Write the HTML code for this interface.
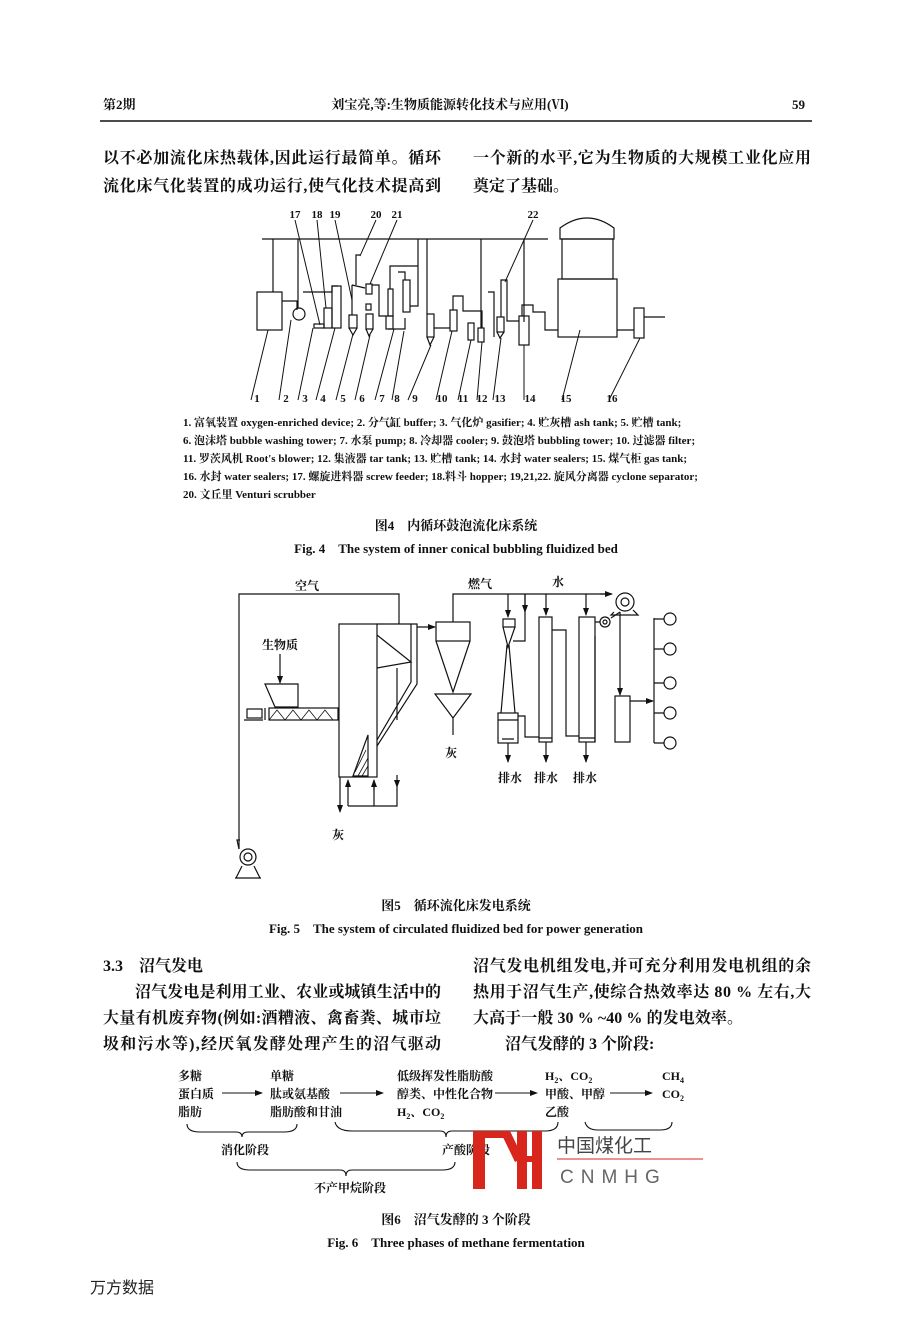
<!DOCTYPE html>
<html><head><meta charset="utf-8"><style>
html,body{margin:0;padding:0;background:#fff;}
svg{display:block}
.t{font-family:"Liberation Serif","Noto Serif CJK SC","Noto Sans CJK SC",serif;fill:#111;}
.b{font-weight:bold}
</style></head><body>
<svg width="904" height="1320" viewBox="0 0 904 1320" xmlns="http://www.w3.org/2000/svg">
<defs><marker id="a" markerWidth="8" markerHeight="8" refX="7" refY="4" orient="auto" markerUnits="userSpaceOnUse"><path d="M0,1 L8,4 L0,7z" fill="#111"/></marker></defs>
<g class="t b">
<text x="103" y="109" font-size="13">第2期</text>
<text x="450" y="109" font-size="13" text-anchor="middle">刘宝亮,等:生物质能源转化技术与应用(Ⅵ)</text>
<text x="805" y="109" font-size="13" text-anchor="end">59</text>
</g>
<line x1="100" y1="121" x2="812" y2="121" stroke="#111" stroke-width="1.6"/>
<g class="t b" font-size="16">
<text x="103" y="163" textLength="338">以不必加流化床热载体,因此运行最简单。循环</text>
<text x="103" y="191" textLength="338">流化床气化装置的成功运行,使气化技术提高到</text>
<text x="473" y="163" textLength="338">一个新的水平,它为生物质的大规模工业化应用</text>
<text x="473" y="191">奠定了基础。</text>
</g>
<!-- Fig 4 -->
<g stroke="#111" stroke-width="1.2" fill="none">
<line x1="262" y1="239" x2="548" y2="239"/>
<path d="M560,239 V228 Q587,208 614,228 V239 Z"/>
<rect x="562" y="239" width="51" height="40"/>
<rect x="558" y="279" width="59" height="58"/>
<rect x="257" y="292" width="25" height="38"/>
<line x1="273" y1="239" x2="273" y2="292"/>
<circle cx="299" cy="314" r="6"/>
<path d="M282,301 H297 V310 M298,239 V308 M303,292 H332 V286 H338"/>
<rect x="332" y="286" width="9" height="42"/>
<rect x="324" y="308" width="8" height="20"/>
<rect x="314" y="324" width="10" height="4"/>
<rect x="349" y="315" width="8" height="13"/><path d="M349,328 L353,335 L357,328"/>
<rect x="366" y="314" width="7" height="15"/><path d="M366,329 L369,336 L373,329"/>
<rect x="366" y="304" width="5" height="6"/>
<rect x="366" y="284" width="6" height="10"/>
<path d="M352,315 V285 M352,285 L365,288 M356,285 V255 H360 M372,285 H379 V316 H386"/>
<rect x="386" y="316" width="7" height="13"/>
<rect x="388" y="289" width="5" height="27"/>
<rect x="403" y="280" width="7" height="32"/>
<path d="M390,289 V266 H418 V306 H410 M398,272 H405 V280 M388,329 H405 V318 M418,266 V239"/>
<rect x="427" y="314" width="7" height="23"/><path d="M427,337 L430,345 L434,337"/>
<rect x="450" y="310" width="7" height="21"/>
<rect x="468" y="323" width="6" height="17"/>
<rect x="478" y="328" width="6" height="14"/>
<path d="M427,314 V239 M434,328 H450 M453,310 V296 H463 V311 H482 V328 M481,239 V328 M488,292 H494 V337"/>
<rect x="497" y="317" width="7" height="15"/><path d="M497,332 L500,338 L504,332"/>
<path d="M501,317 V280 H507 V321 H519 M524,239 V322"/>
<rect x="519" y="316" width="10" height="29"/>
<path d="M522,316 V305 H533 V312 H545 V330 H558 M617,330 H634"/>
<rect x="634" y="308" width="10" height="30"/>
<line x1="644" y1="317" x2="665" y2="317"/>
</g>
<g stroke="#111" stroke-width="1" fill="none">
<path d="M251,400 L268,330 M279,400 L291,320 M298,400 L313,328 M316,400 L335,328 M336,400 L353,334 M355,400 L370,335 M375,400 L394,329 M392,400 L404,331 M408,400 L431,345 M436,400 L452,331 M458,400 L471,340 M477,400 L482,342 M493,400 L501,338 M524,400 L524,345 M562,400 L580,330 M609,400 L640,338"/>
<path d="M295,220 L320,325 M317,220 L326,308 M335,220 L352,300 M376,220 L360,256 M397,220 L370,284 M533,220 L505,282"/>
</g>
<g class="t" font-size="11" font-weight="bold">
<text x="257" y="402" text-anchor="middle">1</text><text x="286" y="402" text-anchor="middle">2</text><text x="305" y="402" text-anchor="middle">3</text><text x="323" y="402" text-anchor="middle">4</text><text x="343" y="402" text-anchor="middle">5</text><text x="362" y="402" text-anchor="middle">6</text><text x="382" y="402" text-anchor="middle">7</text><text x="397" y="402" text-anchor="middle">8</text><text x="415" y="402" text-anchor="middle">9</text><text x="442" y="402" text-anchor="middle">10</text><text x="463" y="402" text-anchor="middle">11</text><text x="482" y="402" text-anchor="middle">12</text><text x="500" y="402" text-anchor="middle">13</text><text x="530" y="402" text-anchor="middle">14</text><text x="566" y="402" text-anchor="middle">15</text><text x="612" y="402" text-anchor="middle">16</text>
<text x="295" y="218" text-anchor="middle">17</text><text x="317" y="218" text-anchor="middle">18</text><text x="335" y="218" text-anchor="middle">19</text><text x="376" y="218" text-anchor="middle">20</text><text x="397" y="218" text-anchor="middle">21</text><text x="533" y="218" text-anchor="middle">22</text>
</g>
<g class="t" font-size="11" font-weight="bold">
<text x="183" y="426">1. 富氧装置 oxygen-enriched device; 2. 分气缸 buffer; 3. 气化炉 gasifier; 4. 贮灰槽 ash tank; 5. 贮槽 tank;</text>
<text x="183" y="444">6. 泡沫塔 bubble washing tower; 7. 水泵 pump; 8. 冷却器 cooler; 9. 鼓泡塔 bubbling tower; 10. 过滤器 filter;</text>
<text x="183" y="462">11. 罗茨风机 Root's blower; 12. 集液器 tar tank; 13. 贮槽 tank; 14. 水封 water sealers; 15. 煤气柜 gas tank;</text>
<text x="183" y="480">16. 水封 water sealers; 17. 螺旋进料器 screw feeder; 18.料斗 hopper; 19,21,22. 旋风分离器 cyclone separator;</text>
<text x="183" y="498">20. 文丘里 Venturi scrubber</text>
<text x="456" y="530" font-size="13" text-anchor="middle">图4　内循环鼓泡流化床系统</text>
<text x="456" y="553" font-size="13" text-anchor="middle">Fig. 4　The system of inner conical bubbling fluidized bed</text>
</g>
<!-- Fig 5 -->
<g stroke="#111" stroke-width="1.2" fill="none">
<path d="M239,849 V594 H399 V624"/>
<circle cx="248" cy="857" r="8"/><circle cx="248" cy="857" r="4"/>
<path d="M236,878 L242,866 M260,878 L254,866 M235,878 H261 M239,849 L237,840 H240"/>
<rect x="339" y="624" width="38" height="153"/>
<path d="M377,624 H417 V684 L377,746 M411,624 V682 L377,740 M377,635 L411,662 L377,668 M397,668 V720"/>
<path d="M353,776 L368,735 V776 Z"/>
<path d="M355,772 L366,750 M358,776 L368,758 M362,776 L368,766" stroke-width="0.8"/>
<path d="M417,627 H435" marker-end="url(#a)"/>
<path d="M348,806 V783 M374,806 V783 M348,806 H397 V787"/>
<path d="M348,785 V780" marker-end="url(#a)"/><path d="M374,790 V780" marker-end="url(#a)"/><path d="M397,775 V787" marker-end="url(#a)"/>
<path d="M340,777 V812" marker-end="url(#a)"/>
<path d="M265,684 H298 V707 H275 Z"/>
<path d="M280,654 V683" marker-end="url(#a)"/>
<rect x="269" y="708" width="69" height="12"/>
<path d="M269,720 L277,710 L285,720 L293,710 L301,720 L309,710 L317,720 L325,710 L333,720" stroke-width="0.8"/>
<rect x="247" y="709" width="15" height="9"/><path d="M244,720 H263 M265,708 V720"/>
<rect x="436" y="622" width="34" height="19"/>
<path d="M436,641 L453,692 L470,641 M435,694 H471 L453,718 Z M453,718 V735"/>
<path d="M453,622 V594 H610"/><path d="M600,594 H612" marker-end="url(#a)"/>
<circle cx="625" cy="602" r="9"/><circle cx="625" cy="602" r="4"/>
<path d="M614,612 L611,615 H638 L633,610"/>
<rect x="503" y="619" width="12" height="8"/>
<path d="M503,627 L508,647 L515,627 M525,594 V641 H513"/>
<path d="M508,594 V617" marker-end="url(#a)"/><path d="M525,594 V612" marker-end="url(#a)"/><path d="M546,594 V615" marker-end="url(#a)"/><path d="M586,594 V615" marker-end="url(#a)"/>
<path d="M507,645 L501,713 M509,645 L515,713"/>
<rect x="498" y="713" width="20" height="30"/>
<path d="M498,720 H518 M502,739 H514"/>
<rect x="539" y="617" width="13" height="125"/>
<rect x="579" y="617" width="16" height="125"/>
<path d="M518,716 H525 V737 H539 M552,630 H566 V736 H579 M595,636 V742 M539,738 H552 M579,738 H595"/>
<path d="M508,743 V762" marker-end="url(#a)"/><path d="M546,742 V762" marker-end="url(#a)"/><path d="M586,742 V762" marker-end="url(#a)"/>
<circle cx="605" cy="622" r="5"/><circle cx="605" cy="622" r="2"/>
<path d="M595,622 H600 M611,618 L620,612"/>
<path d="M620,612 V695" marker-end="url(#a)"/>
<rect x="615" y="696" width="15" height="46"/>
<path d="M630,701 H653" marker-end="url(#a)"/>
<path d="M654,618 V743"/>
<path d="M654,619 H664 M654,649 H664 M654,683 H664 M654,713 H664 M654,743 H664"/>
<circle cx="670" cy="619" r="6"/><circle cx="670" cy="649" r="6"/><circle cx="670" cy="683" r="6"/><circle cx="670" cy="713" r="6"/><circle cx="670" cy="743" r="6"/>
</g>
<g class="t b" font-size="12">
<text x="307" y="590" text-anchor="middle">空气</text>
<text x="280" y="649" text-anchor="middle">生物质</text>
<text x="480" y="588" text-anchor="middle">燃气</text>
<text x="558" y="586" text-anchor="middle">水</text>
<text x="451" y="757" text-anchor="middle">灰</text>
<text x="338" y="839" text-anchor="middle">灰</text>
<text x="510" y="782" text-anchor="middle">排水</text>
<text x="546" y="782" text-anchor="middle">排水</text>
<text x="585" y="782" text-anchor="middle">排水</text>
<text x="456" y="910" font-size="13" text-anchor="middle">图5　循环流化床发电系统</text>
<text x="456" y="933" font-size="13" text-anchor="middle">Fig. 5　The system of circulated fluidized bed for power generation</text>
</g>
<!-- section 3.3 -->
<g class="t b" font-size="16">
<text x="103" y="971">3.3　沼气发电</text>
<text x="135" y="997" textLength="306">沼气发电是利用工业、农业或城镇生活中的</text>
<text x="103" y="1023" textLength="338">大量有机废弃物(例如:酒糟液、禽畜粪、城市垃</text>
<text x="103" y="1049" textLength="338">圾和污水等),经厌氧发酵处理产生的沼气驱动</text>
<text x="473" y="971" textLength="338">沼气发电机组发电,并可充分利用发电机组的余</text>
<text x="473" y="997" textLength="338">热用于沼气生产,使综合热效率达 80 % 左右,大</text>
<text x="473" y="1023" textLength="270">大高于一般 30 % ~40 % 的发电效率。</text>
<text x="505" y="1049">沼气发酵的 3 个阶段:</text>
</g>
<!-- Fig 6 -->
<g class="t b" font-size="12">
<text x="178" y="1080">多糖</text><text x="178" y="1098">蛋白质</text><text x="178" y="1116">脂肪</text>
<text x="270" y="1080">单糖</text><text x="270" y="1098">肽或氨基酸</text><text x="270" y="1116">脂肪酸和甘油</text>
<text x="397" y="1080">低级挥发性脂肪酸</text><text x="397" y="1098">醇类、中性化合物</text><text x="397" y="1116">H<tspan font-size="8" dy="3">2</tspan><tspan dy="-3">、CO</tspan><tspan font-size="8" dy="3">2</tspan></text>
<text x="545" y="1080">H<tspan font-size="8" dy="3">2</tspan><tspan dy="-3">、CO</tspan><tspan font-size="8" dy="3">2</tspan></text><text x="545" y="1098">甲酸、甲醇</text><text x="545" y="1116">乙酸</text>
<text x="662" y="1080">CH<tspan font-size="8" dy="3">4</tspan></text><text x="662" y="1098">CO<tspan font-size="8" dy="3">2</tspan></text>
<text x="245" y="1154" text-anchor="middle">消化阶段</text>
<text x="466" y="1154" text-anchor="middle">产酸阶段</text>
<text x="350" y="1192" text-anchor="middle">不产甲烷阶段</text>
</g>
<g stroke="#111" stroke-width="1.1" fill="none">
<path d="M222,1093 H262" marker-end="url(#a)"/><path d="M340,1093 H383" marker-end="url(#a)"/><path d="M495,1093 H537" marker-end="url(#a)"/><path d="M610,1093 H652" marker-end="url(#a)"/>
<path d="M187,1124 Q187,1132 200,1132 H236 Q242,1132 242,1137 Q242,1132 248,1132 H284 Q297,1132 297,1124"/>
<path d="M335,1122 Q337,1131 352,1131 H440 Q446,1131 446,1137 Q446,1131 452,1131 H545 Q558,1131 558,1122"/>
<path d="M585,1122 Q587,1130 598,1130 H660 Q672,1130 672,1122"/>
<path d="M237,1162 Q237,1170 250,1170 H340 Q346,1170 346,1176 Q346,1170 352,1170 H442 Q455,1170 455,1162"/>
</g>
<g fill="#d9261c">
<rect x="473" y="1131" width="12" height="58"/>
<rect x="473" y="1131" width="36" height="7"/>
<polygon points="500,1131 510,1131 523,1158 515,1162"/>
<rect x="517" y="1131" width="10" height="58"/>
<rect x="517" y="1156" width="25" height="6"/>
<rect x="532" y="1131" width="10" height="58"/>
</g>
<line x1="557" y1="1159" x2="703" y2="1159" stroke="#d9261c" stroke-width="1"/>
<text x="557" y="1152" font-family="'Noto Sans CJK SC',sans-serif" font-size="19" fill="#444">中国煤化工</text>
<text x="560" y="1183" font-family="'Liberation Sans',sans-serif" font-size="19" fill="#666" letter-spacing="7">CNMHG</text>
<g class="t b" font-size="13">
<text x="456" y="1224" text-anchor="middle">图6　沼气发酵的 3 个阶段</text>
<text x="456" y="1247" text-anchor="middle">Fig. 6　Three phases of methane fermentation</text>
</g>
<text x="90" y="1293" font-family="'Noto Sans CJK SC',sans-serif" font-size="16" fill="#222">万方数据</text>
</svg>
</body></html>
